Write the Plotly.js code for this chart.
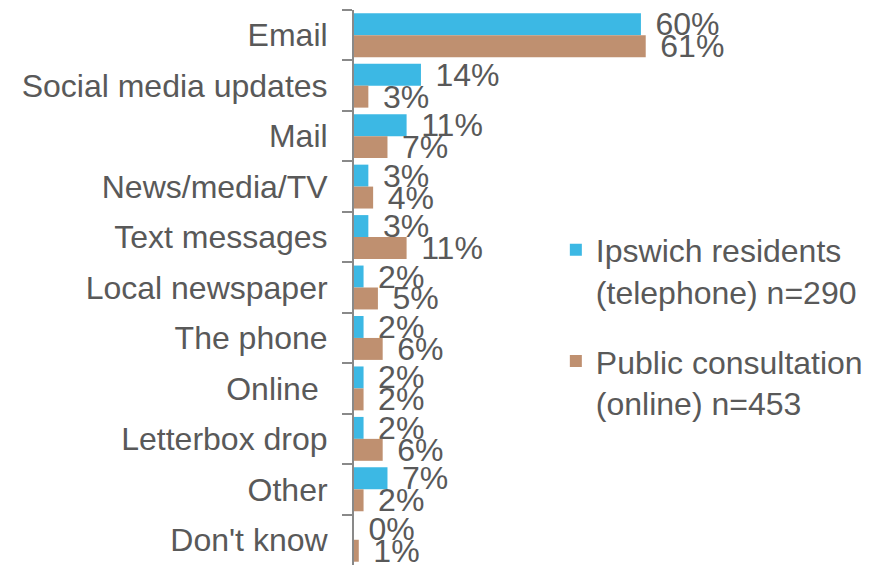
<!DOCTYPE html>
<html>
<head>
<meta charset="utf-8">
<script src="https://cdn.plot.ly/plotly-3.0.1.min.js"></script>
<style>
  html, body { margin: 0; padding: 0; background: #ffffff; }
  #chart { width: 881px; height: 565px; }
</style>
</head>
<body>
<div id="chart"></div>
<script>
const categories = ["Email", "Social media updates", "Mail", "News/media/TV", "Text messages",
  "Local newspaper", "The phone", "Online ", "Letterbox drop", "Other", "Don't know"];
const residentsValues = [60, 14, 11, 3, 3, 2, 2, 2, 2, 7, 0];
const consultationValues = [61, 3, 7, 4, 11, 5, 6, 2, 6, 2, 1];
const seriesNames = ["Ipswich residents<br>(telephone) n=290", "Public consultation<br>(online) n=453"];

const textColor = "#595959";
const fontFamily = "Liberation Sans, Arial, sans-serif";
const fontSize = 32;

function makeTrace(values, name, color, group) {
  return {
    type: "bar",
    orientation: "h",
    y: categories,
    x: values,
    name: name,
    legendgroup: group,
    marker: { color: color, line: { width: 0 } },
    text: values.map(v => "\u00a0\u200a" + v + "%"),
    textposition: "outside",
    constraintext: "none",
    cliponaxis: false,
    textfont: { family: fontFamily, size: fontSize, color: textColor },
    hoverinfo: "skip"
  };
}

const data = [
  makeTrace(residentsValues, seriesNames[0], "#3cb8e4", "g1"),
  makeTrace(consultationValues, seriesNames[1], "#bf9070", "g2")
];

const layout = {
  width: 881,
  height: 565,
  margin: { l: 354, r: 0, t: 10, b: 0, pad: 0 },
  paper_bgcolor: "#ffffff",
  plot_bgcolor: "#ffffff",
  barmode: "group",
  bargap: 0.13,
  bargroupgap: 0,
  font: { family: fontFamily, size: fontSize, color: textColor },
  xaxis: {
    range: [0, 110.2],
    showgrid: false,
    zeroline: false,
    showline: false,
    showticklabels: false,
    ticks: "",
    fixedrange: true
  },
  yaxis: {
    autorange: "reversed",
    showgrid: false,
    zeroline: false,
    showline: true,
    linecolor: "#898989",
    linewidth: 2,
    ticks: "outside",
    tickson: "boundaries",
    ticklen: 10,
    tickwidth: 2,
    tickcolor: "#898989",
    ticklabelstandoff: 18,
    tickfont: { family: fontFamily, size: fontSize, color: textColor },
    fixedrange: true
  },
  showlegend: true,
  legend: {
    x: 0.383,
    xanchor: "left",
    y: 0.617,
    yanchor: "top",
    traceorder: "grouped",
    tracegroupgap: 25,
    valign: "top",
    bgcolor: "rgba(0,0,0,0)",
    font: { family: fontFamily, size: fontSize, color: textColor }
  }
};

Plotly.newPlot("chart", data, layout, { displayModeBar: false, staticPlot: true });
</script>
</body>
</html>
